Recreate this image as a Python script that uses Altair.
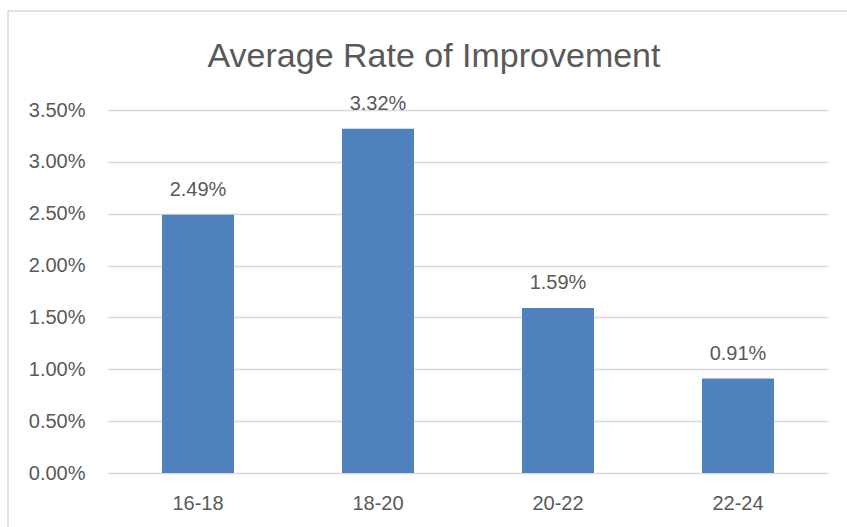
import altair as alt
import pandas as pd

categories = ["16-18", "18-20", "20-22", "22-24"]
values = [0.0249, 0.0332, 0.0159, 0.0091]
labels = ["2.49%", "3.32%", "1.59%", "0.91%"]
y_ticks = [0, 0.005, 0.01, 0.015, 0.02, 0.025, 0.03, 0.035]
title_text = "Average Rate of Improvement"

df = pd.DataFrame({"period": categories, "rate": values, "label": labels})

FONT = "Liberation Sans"
TXT = "#595959"

x_enc = alt.X(
    "period:N",
    sort=categories,
    scale=alt.Scale(paddingInner=0.6, paddingOuter=0.3),
    axis=alt.Axis(
        title=None, labelAngle=0, ticks=False, domain=False,
        labelFont=FONT, labelFontSize=20, labelColor=TXT, labelPadding=20,
        grid=False,
    ),
)
y_enc = alt.Y(
    "rate:Q",
    scale=alt.Scale(domain=[0, 0.035], nice=False),
    axis=alt.Axis(
        title=None, values=y_ticks, format=".2%", ticks=False, domain=False,
        labelFont=FONT, labelFontSize=20, labelColor=TXT, labelPadding=23,
        gridColor="#D9D9D9", gridWidth=1.3,
    ),
)

border = alt.Chart(pd.DataFrame({"a": [0]})).mark_rect(
    fill=None, stroke="#D9D9D9", strokeWidth=1.5, clip=False
).encode(
    x=alt.value(-100), x2=alt.value(800), y=alt.value(-99), y2=alt.value(500)
)

title = alt.Chart(pd.DataFrame({"t": [title_text]})).mark_text(
    font=FONT, fontSize=34, color=TXT, baseline="alphabetic", align="center"
).encode(x=alt.value(326), y=alt.value(-43), text="t:N")

bars = alt.Chart(df).mark_bar(color="#4F81BD").encode(x=x_enc, y=y_enc)

text = alt.Chart(df).mark_text(
    font=FONT, fontSize=20, color=TXT, baseline="alphabetic", dy=-19
).encode(x=alt.X("period:N", sort=categories), y="rate:Q", text="label:N")

chart = alt.layer(border, title, bars, text).properties(
    width=720,
    height=363,
    padding={"left": 108, "top": 110, "right": 19, "bottom": 54},
    autosize=alt.AutoSizeParams(type="none"),
    background="white",
).configure_view(stroke=None)

chart.save("out.html", embed_options={"renderer": "svg", "actions": False})
